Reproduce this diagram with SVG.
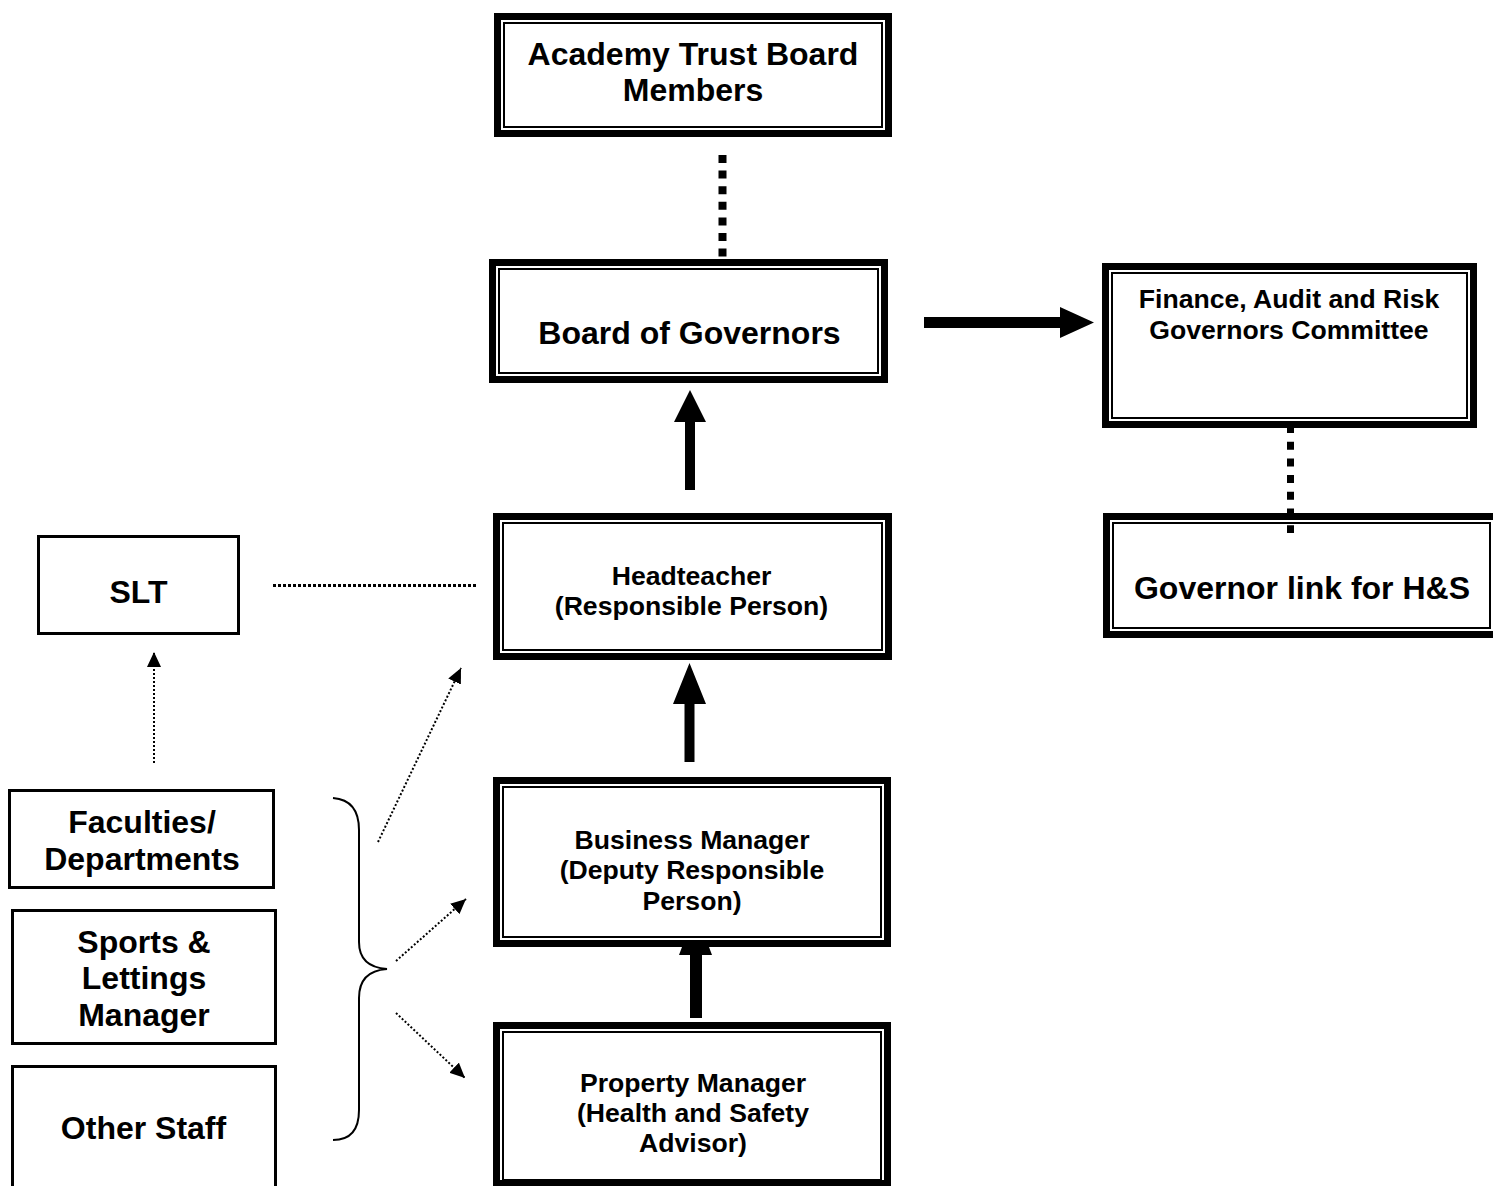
<svg xmlns="http://www.w3.org/2000/svg" width="1493" height="1186" viewBox="0 0 1493 1186">
<style>
.thick{fill:#fff;stroke:#000;stroke-width:7}
.thin{fill:none;stroke:#000;stroke-width:2}
.plain{fill:#fff;stroke:#000;stroke-width:3}
text{font-family:"Liberation Sans",Arial,sans-serif;font-weight:bold;fill:#000;text-anchor:middle}
.big{font-size:32px}
.small{font-size:26.6px}
.bigdot{stroke:#000;fill:none}
.dot{stroke:#000;stroke-width:2;fill:none;stroke-dasharray:2 2}
.solid{fill:#000;stroke:none}
</style>
<defs>
<marker id="ah" markerUnits="userSpaceOnUse" markerWidth="16" markerHeight="14" refX="15" refY="7" orient="auto">
<path d="M0,0 L15,7 L0,14 Z" fill="#000"/>
</marker>
</defs>
<g id="nodes">
<g id="academy">
<rect class="thick" x="497.5" y="16.5" width="391" height="117"/>
<rect class="thin" x="504" y="23" width="378" height="104"/>
<text class="big" x="693" y="65">Academy Trust Board</text>
<text class="big" x="693" y="101">Members</text>
</g>
<g id="board">
<rect class="thick" x="492.5" y="262.5" width="392" height="117"/>
<rect class="thin" x="499" y="269" width="379" height="104"/>
<text class="big" x="689.5" y="344">Board of Governors</text>
</g>
<g id="finance">
<rect class="thick" x="1105.5" y="266.5" width="368" height="158"/>
<rect class="thin" x="1112" y="273" width="355" height="145"/>
<text class="small" x="1289" y="308">Finance, Audit and Risk</text>
<text class="small" x="1289" y="339">Governors Committee</text>
</g>
<g id="govlink">
<rect class="thick" x="1106.5" y="516.5" width="390" height="118"/>
<rect class="thin" x="1113" y="523" width="377" height="105"/>
<text class="big" x="1302" y="599">Governor link for H&amp;S</text>
</g>
<g id="headteacher">
<rect class="thick" x="496.5" y="516.5" width="392" height="140"/>
<rect class="thin" x="503" y="523" width="379" height="127"/>
<text class="small" x="691.5" y="585">Headteacher</text>
<text class="small" x="691.5" y="615">(Responsible Person)</text>
</g>
<g id="business">
<rect class="thick" x="496.5" y="780.5" width="391" height="163"/>
<rect class="thin" x="503" y="787" width="378" height="150"/>
<text class="small" x="692" y="849">Business Manager</text>
<text class="small" x="692" y="879">(Deputy Responsible</text>
<text class="small" x="692" y="910">Person)</text>
</g>
<g id="property">
<rect class="thick" x="496.5" y="1025.5" width="391" height="158"/>
<rect class="thin" x="503" y="1032" width="378" height="148"/>
<text class="small" x="693" y="1092">Property Manager</text>
<text class="small" x="693" y="1122">(Health and Safety</text>
<text class="small" x="693" y="1152">Advisor)</text>
</g>
<g id="slt">
<rect class="plain" x="38.5" y="536.5" width="200" height="97"/>
<text class="big" x="138.5" y="603">SLT</text>
</g>
<g id="faculties">
<rect class="plain" x="9.5" y="790.5" width="264" height="97"/>
<text class="big" x="142" y="833">Faculties/</text>
<text class="big" x="142" y="870">Departments</text>
</g>
<g id="sports">
<rect class="plain" x="12.5" y="910.5" width="263" height="133"/>
<text class="big" x="144" y="953">Sports &amp;</text>
<text class="big" x="144" y="989">Lettings</text>
<text class="big" x="144" y="1026">Manager</text>
</g>
<g id="otherstaff">
<rect class="plain" x="12.5" y="1066.5" width="263" height="130"/>
<text class="big" x="143.5" y="1139">Other Staff</text>
</g>
</g>
<g id="connectors">
<line class="bigdot" x1="722.5" y1="155" x2="722.5" y2="259" stroke-width="8" stroke-dasharray="8 7.6"/>
<line class="bigdot" x1="1290.5" y1="425" x2="1290.5" y2="533" stroke-width="7" stroke-dasharray="8 8.7"/>
<path class="solid" d="M924,317 L1060,317 L1060,307 L1094,322.5 L1060,338 L1060,328 L924,328 Z"/>
<path class="solid" d="M685,490 L685,422 L674,422 L690,390 L706,422 L695,422 L695,490 Z"/>
<path class="solid" d="M684.5,762 L684.5,704 L673,704 L689.5,663 L706,704 L694.5,704 L694.5,762 Z"/>
<path class="solid" d="M690,1018 L690,955 L679,955 L682,947 L709,947 L712,955 L702,955 L702,1018 Z"/>
<line x1="273" y1="585.5" x2="477" y2="585.5" stroke="#000" stroke-width="3" stroke-dasharray="3 2"/>
<line class="dot" x1="154" y1="763" x2="154" y2="652" marker-end="url(#ah)"/>
<line class="dot" x1="378" y1="842" x2="461" y2="668" marker-end="url(#ah)"/>
<line class="dot" x1="396" y1="961" x2="466" y2="899" marker-end="url(#ah)"/>
<line class="dot" x1="396" y1="1013" x2="465" y2="1078" marker-end="url(#ah)"/>
<path d="M333,798 Q359,800 359,830 L359,942 Q359,967 387,969 Q359,971 359,998 L359,1110 Q359,1140 333,1140" fill="none" stroke="#000" stroke-width="2"/>
</g>
</svg>
